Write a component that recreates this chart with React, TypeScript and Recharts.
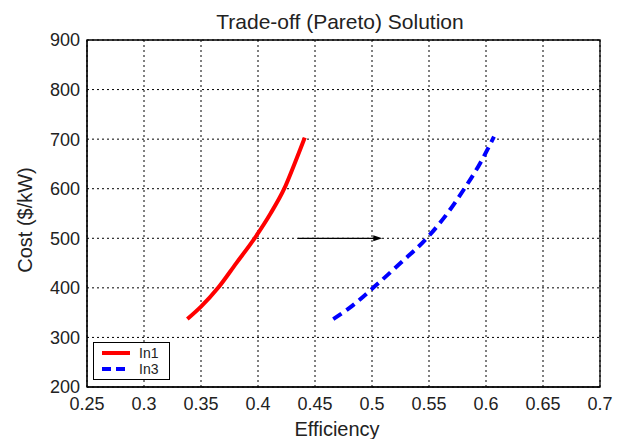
import React from 'react';
import {
  LineChart,
  Line,
  XAxis,
  YAxis,
  CartesianGrid,
  ReferenceLine,
  ReferenceArea,
} from 'recharts';

// Pareto front before (In1) and after (In3)
const efficiencyIn1 = [0.338, 0.35, 0.365, 0.381, 0.397, 0.411, 0.423, 0.432, 0.441];
const costIn1 = [337, 362, 400, 450, 500, 550, 600, 650, 703];

const efficiencyIn3 = [0.466, 0.48, 0.501, 0.525, 0.548, 0.566, 0.581, 0.595, 0.607];
const costIn3 = [337, 359, 400, 450, 500, 550, 600, 652, 705];

const xTicks = [0.25, 0.3, 0.35, 0.4, 0.45, 0.5, 0.55, 0.6, 0.65, 0.7];
const yTicks = [200, 300, 400, 500, 600, 700, 800, 900];

const xDomain: [number, number] = [0.25, 0.7];
const yDomain: [number, number] = [200, 900];

// shift arrow between the two fronts
const arrowFrom = { x: 0.435, y: 500 };
const arrowTo = { x: 0.509, y: 500 };

const in1 = efficiencyIn1.map((x, i) => ({ x, y: costIn1[i] }));
const in3 = efficiencyIn3.map((x, i) => ({ x, y: costIn3[i] }));

const FONT = '"Liberation Sans", Arial, Helvetica, sans-serif';
const INK = '#222';

const Arrow = (props: any) => {
  const { x1, y1, x2, y2 } = props;
  return (
    <g>
      <line x1={x1} y1={y1} x2={x2 - 6} y2={y2} stroke="#000" strokeWidth={1.2} />
      <polygon points={`${x2},${y2} ${x2 - 9},${y2 - 3} ${x2 - 9},${y2 + 3}`} fill="#000" />
    </g>
  );
};

const legendItems = [
  { name: 'In1', color: '#ff0000', dash: undefined as string | undefined },
  { name: 'In3', color: '#0000ff', dash: '9 5' },
];

const LegendBox = () => (
  <div
    style={{
      position: 'absolute',
      left: 93,
      top: 342,
      width: 77,
      height: 38,
      border: '1px solid #000',
      background: '#fff',
      fontFamily: FONT,
      fontSize: 14,
      lineHeight: '16px',
      paddingTop: 2,
      boxSizing: 'border-box',
    }}
  >
    {legendItems.map((e) => (
      <div key={e.name} style={{ display: 'flex', alignItems: 'center', height: 16 }}>
        <svg width={45} height={16}>
          <line x1={8} y1={8} x2={36} y2={8} stroke={e.color} strokeWidth={4} strokeDasharray={e.dash} />
        </svg>
        <span style={{ color: INK }}>{e.name}</span>
      </div>
    ))}
  </div>
);

export default function App() {
  return (
    <div style={{ position: 'absolute', left: 0, top: 0, width: 621, height: 439, background: '#fff' }}>
      <LineChart width={621} height={439} margin={{ top: 40, right: 21, bottom: 22, left: 0 }}>
        <text x={340} y={29} textAnchor="middle" fontFamily={FONT} fontSize={21} fill={INK}>
          Trade-off (Pareto) Solution
        </text>
        <text x={337} y={436} textAnchor="middle" fontFamily={FONT} fontSize={20} fill={INK}>
          Efficiency
        </text>
        <text
          x={0}
          y={0}
          transform="translate(32, 220) rotate(-90)"
          textAnchor="middle"
          fontFamily={FONT}
          fontSize={20}
          fill={INK}
        >
          Cost ($/kW)
        </text>
        <CartesianGrid stroke="#000" strokeDasharray="2 3" strokeWidth={1} />
        <XAxis
          dataKey="x"
          type="number"
          domain={xDomain}
          ticks={xTicks}
          allowDataOverflow
          tickLine={false}
          axisLine={{ stroke: '#000' }}
          tick={{ fontFamily: FONT, fontSize: 18, fill: INK }}
          tickMargin={4}
          tickFormatter={(v: number) => String(v)}
        />
        <YAxis
          type="number"
          domain={yDomain}
          ticks={yTicks}
          width={87}
          tickLine={false}
          axisLine={{ stroke: '#000' }}
          tick={{ fontFamily: FONT, fontSize: 18, fill: INK }}
          tickMargin={1}
        />
        <ReferenceArea
          x1={xDomain[0]}
          x2={xDomain[1]}
          y1={yDomain[0]}
          y2={yDomain[1]}
          fill="none"
          fillOpacity={0}
          stroke="#000"
          strokeWidth={1.3}
        />
        <ReferenceLine segment={[arrowFrom, arrowTo]} shape={<Arrow />} />
        <Line
          data={in1}
          dataKey="y"
          name="In1"
          type="monotone"
          stroke="#ff0000"
          strokeWidth={4}
          dot={false}
          isAnimationActive={false}
        />
        <Line
          data={in3}
          dataKey="y"
          name="In3"
          type="monotone"
          stroke="#0000ff"
          strokeWidth={4}
          strokeDasharray="10 6"
          dot={false}
          isAnimationActive={false}
        />
      </LineChart>
      <LegendBox />
    </div>
  );
}
